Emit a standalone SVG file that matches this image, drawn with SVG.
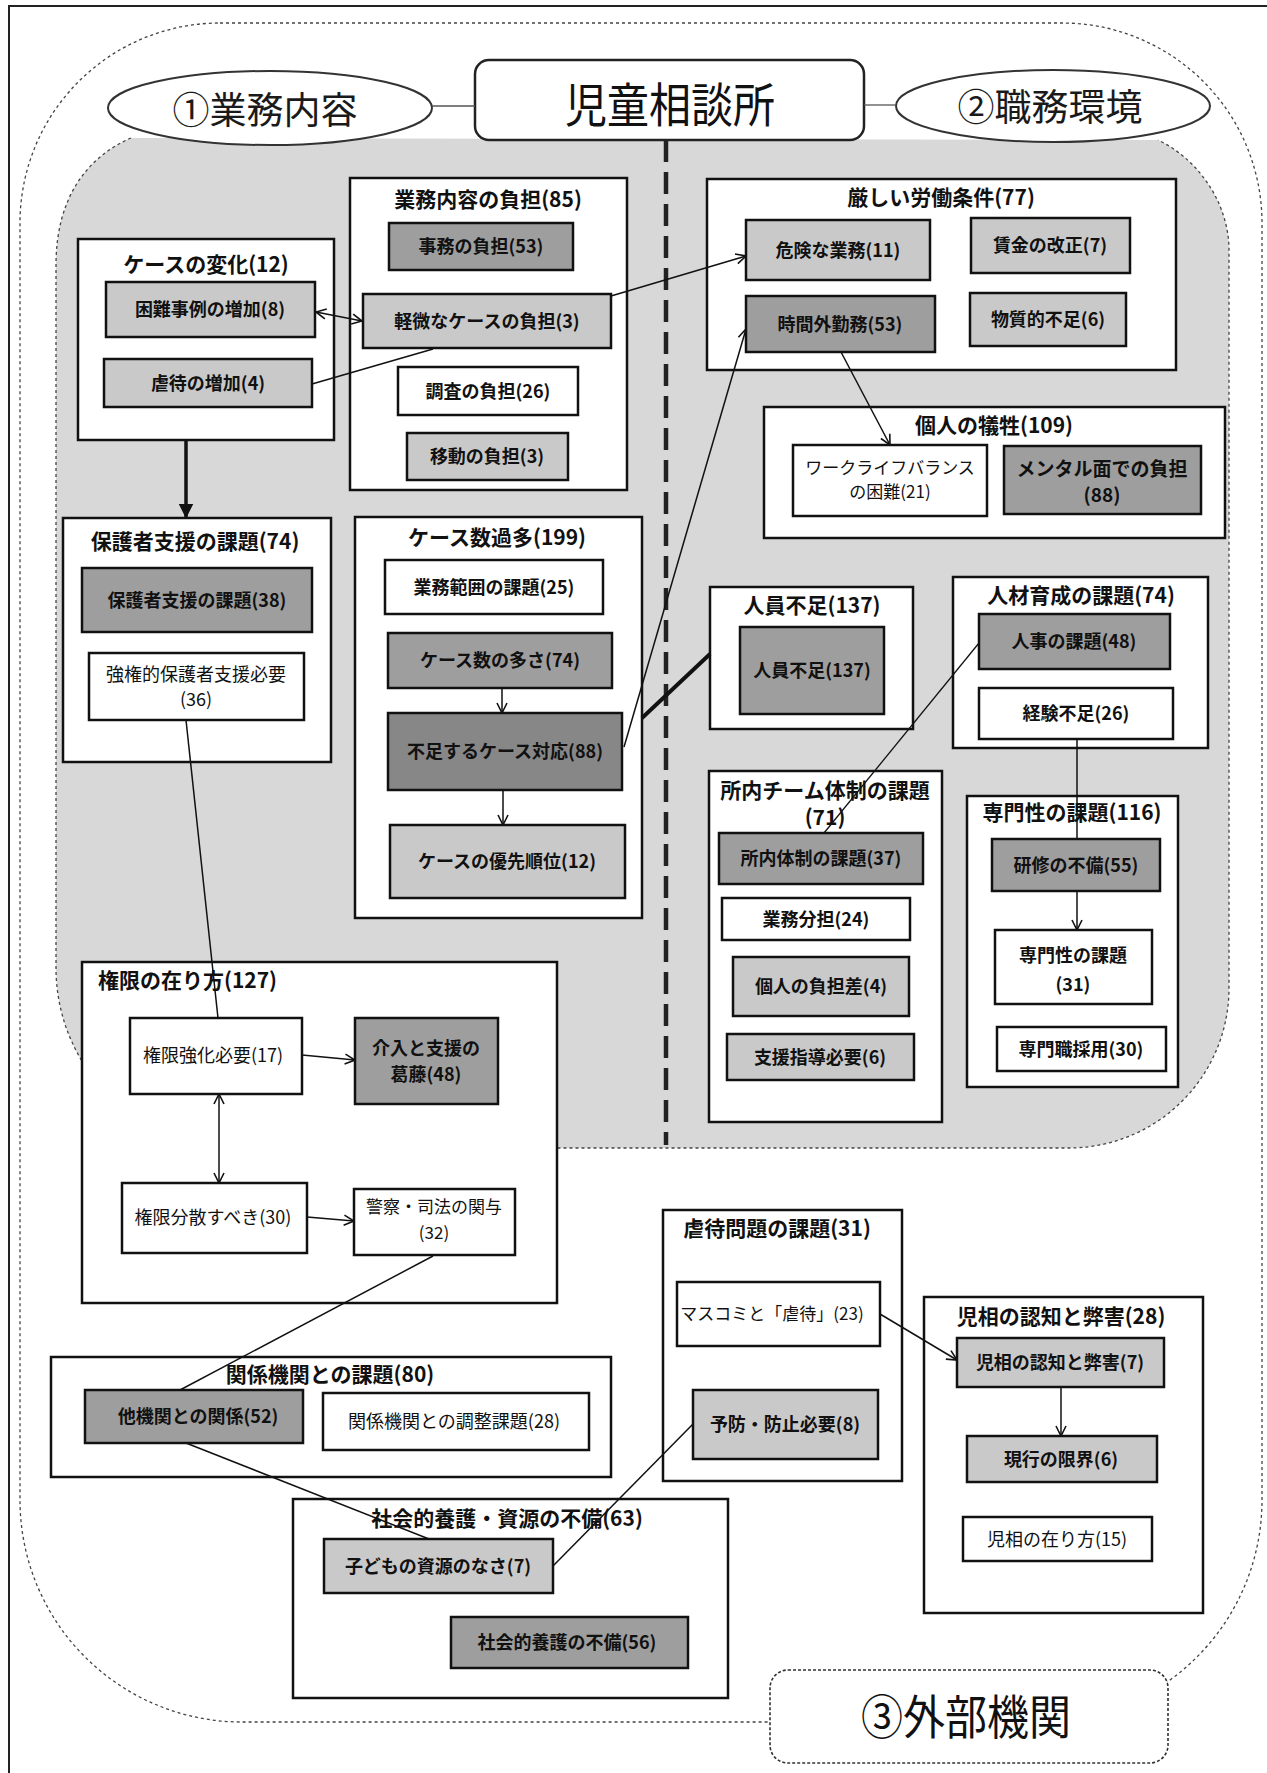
<svg xmlns="http://www.w3.org/2000/svg" width="1267" height="1773" viewBox="0 0 1267 1773">
<style>
text{font-family:"Noto Sans CJK JP","Noto Sans",sans-serif;fill:#111;text-anchor:middle}
.tt{font-size:21px;font-weight:bold}
.it{font-size:18px;font-weight:bold}
.nt{font-size:18px;font-weight:normal}
.big{font-size:37px;font-weight:normal;fill:#1a1a1a}
.bx{stroke:#111;stroke-width:2.5}
.w{fill:#fff}.l{fill:#c9c9c9}.d{fill:#9e9e9e}.dd{fill:#878787}
.cn{fill:none;stroke:#111;stroke-width:1.5}
.ar{marker-end:url(#ah)}
.da{marker-start:url(#ah);marker-end:url(#ah)}
.dot{fill:none;stroke:#444;stroke-width:1.3;stroke-dasharray:3 3}
</style>
<defs>
<marker id="ah" viewBox="0 0 12 12" refX="11" refY="6" markerWidth="12" markerHeight="12" markerUnits="userSpaceOnUse" orient="auto-start-reverse"><path d="M1,1 L11,6 L1,11" fill="none" stroke="#111" stroke-width="1.6"/></marker>
<marker id="ahf" viewBox="0 0 10 10" refX="9" refY="5" markerWidth="15" markerHeight="15" markerUnits="userSpaceOnUse" orient="auto"><path d="M0,0 L10,5 L0,10 z" fill="#111"/></marker>
</defs>
<rect width="1267" height="1773" fill="#fff"/>
<g id="frame"><path d="M9 1773 V6 H1267" fill="none" stroke="#222" stroke-width="2"/></g>
<g id="regions">
<path id="region3" class="dot" d="M220 23 H1062 A200 200 0 0 1 1262 223 V1500 A222 222 0 0 1 1040 1722 H242 A222 222 0 0 1 20 1500 V223 A200 200 0 0 1 220 23 Z"/>
<path id="region12-fill" d="M131 138 C85 158 56 200 56 265 V968 A180 180 0 0 0 236 1148 H1069 A160 160 0 0 0 1229 988 V250 C1229 205 1200 160 1158 140 Z" fill="#d8d8d8"/>
<path id="region12-edge" class="dot" d="M131 138 C85 158 56 200 56 265 V968 A180 180 0 0 0 236 1148 H1069 A160 160 0 0 0 1229 988 V250 C1229 205 1200 160 1158 140"/>
</g>
<g id="divider"><line x1="666" y1="140" x2="666" y2="1145" stroke="#222" stroke-width="4.5" stroke-dasharray="22 10"/></g>

<g id="n-ell1"><ellipse cx="270" cy="108" rx="162" ry="37" fill="#fff" stroke="#333" stroke-width="2"/><text class="big" x="265" y="124">①業務内容</text></g>
<g id="n-ell2"><ellipse cx="1053" cy="106" rx="157" ry="36" fill="#fff" stroke="#333" stroke-width="2"/><text class="big" x="1050" y="121">②職務環境</text></g>
<g id="n-title"><rect x="475" y="60" width="389" height="80" rx="14" fill="#fff" stroke="#222" stroke-width="2.5"/><text transform="translate(670 105) scale(1 1.12)" x="0" y="15.5" style="font-size:42px">児童相談所</text></g>
<g id="n-ext"><rect x="770" y="1670" width="398" height="93" rx="18" fill="#fff" stroke="#333" stroke-width="1.6" stroke-dasharray="3 2"/><text transform="translate(966 1717) scale(1 1.1)" x="0" y="15.5" style="font-size:42px">③外部機関</text></g>

<g id="c-case-change"><rect class="bx w" x="78" y="239" width="256" height="201"/><text class="tt" x="206" y="272">ケースの変化(12)</text></g>
<g id="c-gyomu"><rect class="bx w" x="350" y="178" width="277" height="312"/><text class="tt" x="488" y="207">業務内容の負担(85)</text></g>
<g id="c-roudou"><rect class="bx w" x="707" y="179" width="469" height="191"/><text class="tt" x="941" y="205">厳しい労働条件(77)</text></g>
<g id="c-gisei"><rect class="bx w" x="764" y="407" width="461" height="131"/><text class="tt" x="994" y="433">個人の犠牲(109)</text></g>
<g id="c-hogosha"><rect class="bx w" x="63" y="518" width="268" height="244"/><text class="tt" x="195" y="549">保護者支援の課題(74)</text></g>
<g id="c-kasu"><rect class="bx w" x="355" y="517" width="287" height="401"/><text class="tt" x="497" y="545">ケース数過多(199)</text></g>
<g id="c-jinin"><rect class="bx w" x="710" y="587" width="203" height="142"/><text class="tt" x="812" y="613">人員不足(137)</text></g>
<g id="c-jinzai"><rect class="bx w" x="953" y="577" width="255" height="171"/><text class="tt" x="1081" y="603">人材育成の課題(74)</text></g>
<g id="c-shonai"><rect class="bx w" x="709" y="771" width="233" height="351"/><text class="tt" x="825" y="798">所内チーム体制の課題</text><text class="tt" x="825" y="825">(71)</text></g>
<g id="c-senmon"><rect class="bx w" x="967" y="796" width="211" height="291"/><text class="tt" x="1072" y="820">専門性の課題(116)</text></g>
<g id="c-kengen"><rect class="bx w" x="82" y="962" width="475" height="341"/><text class="tt" x="98" y="988" style="text-anchor:start">権限の在り方(127)</text></g>
<g id="c-kankei"><rect class="bx w" x="51" y="1357" width="560" height="120"/><text class="tt" x="330" y="1382">関係機関との課題(80)</text></g>
<g id="c-shakai"><rect class="bx w" x="293" y="1499" width="435" height="199"/><text class="tt" x="507" y="1526">社会的養護・資源の不備(63)</text></g>
<g id="c-gyakutai"><rect class="bx w" x="663" y="1210" width="239" height="271"/><text class="tt" x="777" y="1236">虐待問題の課題(31)</text></g>
<g id="c-jiso"><rect class="bx w" x="924" y="1297" width="279" height="316"/><text class="tt" x="1061" y="1324">児相の認知と弊害(28)</text></g>

<g id="connectors">
<line class="cn" x1="432" y1="106" x2="475" y2="106" style="stroke:#555;stroke-width:1.3"/>
<line class="cn" x1="864" y1="105" x2="896" y2="105" style="stroke:#555;stroke-width:1.3"/>
<line class="cn da" x1="316" y1="312" x2="362" y2="321"/>
<line class="cn" x1="312" y1="384" x2="433" y2="349"/>
<line class="cn ar" x1="611" y1="296" x2="746" y2="256"/>
<line x1="186" y1="440" x2="186" y2="517" stroke="#111" stroke-width="3.5" marker-end="url(#ahf)"/>
<line class="cn ar" x1="841" y1="352" x2="890" y2="445"/>
<line class="cn ar" x1="502" y1="688" x2="502" y2="713"/>
<line class="cn ar" x1="503" y1="790" x2="503" y2="825"/>
<line class="cn ar" x1="624" y1="747" x2="746" y2="329"/>
<line x1="642" y1="718" x2="710" y2="654" stroke="#111" stroke-width="4"/>
<line class="cn" x1="824" y1="833" x2="979" y2="643" style="stroke-width:1.3"/>
<line class="cn ar" x1="1077" y1="739" x2="1077" y2="930"/>
<line class="cn" x1="186" y1="720" x2="218" y2="1018"/>
<line class="cn ar" x1="302" y1="1055" x2="355" y2="1060"/>
<line class="cn da" x1="219" y1="1094" x2="219" y2="1183"/>
<line class="cn ar" x1="307" y1="1217" x2="354" y2="1221"/>
<line class="cn" x1="433" y1="1256" x2="180" y2="1390"/>
<line class="cn" x1="186" y1="1443" x2="429" y2="1539"/>
<line class="cn" x1="553" y1="1566" x2="693" y2="1424"/>
<line class="cn ar" x1="880" y1="1314" x2="957" y2="1360"/>
<line class="cn ar" x1="1061" y1="1387" x2="1061" y2="1436"/>
</g>

<g id="n-konnan"><rect class="bx l" x="106" y="282" width="209" height="55"/><text class="it" x="210" y="316">困難事例の増加(8)</text></g>
<g id="n-gyakutai-zouka"><rect class="bx l" x="104" y="359" width="208" height="48"/><text class="it" x="208" y="390">虐待の増加(4)</text></g>
<g id="n-jimu"><rect class="bx d" x="389" y="223" width="184" height="47"/><text class="it" x="481" y="253">事務の負担(53)</text></g>
<g id="n-keibi"><rect class="bx l" x="363" y="294" width="248" height="54"/><text class="it" x="487" y="328">軽微なケースの負担(3)</text></g>
<g id="n-chosa"><rect class="bx w" x="398" y="367" width="180" height="48"/><text class="it" x="488" y="398">調査の負担(26)</text></g>
<g id="n-ido"><rect class="bx l" x="407" y="433" width="161" height="47"/><text class="it" x="487" y="463">移動の負担(3)</text></g>
<g id="n-kiken"><rect class="bx l" x="746" y="220" width="184" height="60"/><text class="it" x="838" y="257">危険な業務(11)</text></g>
<g id="n-chingin"><rect class="bx l" x="971" y="218" width="159" height="55"/><text class="it" x="1050" y="252">賃金の改正(7)</text></g>
<g id="n-jikangai"><rect class="bx d" x="746" y="296" width="189" height="56"/><text class="it" x="840" y="331">時間外勤務(53)</text></g>
<g id="n-busshitsu"><rect class="bx l" x="970" y="293" width="156" height="53"/><text class="it" x="1048" y="326">物質的不足(6)</text></g>
<g id="n-wlb"><rect class="bx w" x="793" y="445" width="194" height="71"/><text style="font-size:17px;font-weight:normal" x="890" y="474">ワークライフバランス</text><text style="font-size:17px;font-weight:normal" x="890" y="498">の困難(21)</text></g>
<g id="n-mental"><rect class="bx d" x="1004" y="446" width="197" height="68"/><text style="font-size:19px;font-weight:bold" x="1102" y="476">メンタル面での負担</text><text style="font-size:19px;font-weight:bold" x="1102" y="502">(88)</text></g>
<g id="n-hogosha38"><rect class="bx d" x="82" y="568" width="230" height="64"/><text class="it" x="197" y="607">保護者支援の課題(38)</text></g>
<g id="n-kyoken"><rect class="bx w" x="89" y="653" width="215" height="67"/><text class="nt" x="196" y="681">強権的保護者支援必要</text><text class="nt" x="196" y="706">(36)</text></g>
<g id="n-hanni"><rect class="bx w" x="385" y="560" width="218" height="54"/><text class="it" x="494" y="594">業務範囲の課題(25)</text></g>
<g id="n-kazu"><rect class="bx d" x="388" y="633" width="224" height="55"/><text class="it" x="500" y="667">ケース数の多さ(74)</text></g>
<g id="n-fusoku"><rect class="bx dd" x="388" y="713" width="234" height="77"/><text class="it" x="505" y="758">不足するケース対応(88)</text></g>
<g id="n-yusen"><rect class="bx l" x="390" y="825" width="235" height="73"/><text class="it" x="507" y="868">ケースの優先順位(12)</text></g>
<g id="n-jinin137"><rect class="bx d" x="740" y="627" width="144" height="87"/><text class="it" x="812" y="677">人員不足(137)</text></g>
<g id="n-jinji"><rect class="bx d" x="979" y="614" width="191" height="55"/><text class="it" x="1074" y="648">人事の課題(48)</text></g>
<g id="n-keiken"><rect class="bx w" x="979" y="688" width="194" height="51"/><text class="it" x="1076" y="720">経験不足(26)</text></g>
<g id="n-shonai37"><rect class="bx d" x="719" y="833" width="204" height="51"/><text class="it" x="821" y="865">所内体制の課題(37)</text></g>
<g id="n-buntan"><rect class="bx w" x="722" y="898" width="188" height="42"/><text class="it" x="816" y="926">業務分担(24)</text></g>
<g id="n-futansa"><rect class="bx l" x="733" y="957" width="176" height="59"/><text class="it" x="821" y="993">個人の負担差(4)</text></g>
<g id="n-shien"><rect class="bx l" x="727" y="1034" width="187" height="46"/><text class="it" x="820" y="1064">支援指導必要(6)</text></g>
<g id="n-kenshu"><rect class="bx d" x="992" y="839" width="168" height="52"/><text class="it" x="1076" y="872">研修の不備(55)</text></g>
<g id="n-senmon31"><rect class="bx w" x="995" y="930" width="157" height="74"/><text class="it" x="1073" y="962">専門性の課題</text><text class="it" x="1073" y="991">(31)</text></g>
<g id="n-saiyo"><rect class="bx w" x="997" y="1027" width="169" height="44"/><text class="it" x="1081" y="1056">専門職採用(30)</text></g>
<g id="n-kyoka"><rect class="bx w" x="130" y="1018" width="172" height="76"/><text class="nt" x="213" y="1062">権限強化必要(17)</text></g>
<g id="n-kainyu"><rect class="bx d" x="355" y="1018" width="143" height="86"/><text class="it" x="426" y="1055">介入と支援の</text><text class="it" x="426" y="1081">葛藤(48)</text></g>
<g id="n-bunsan"><rect class="bx w" x="122" y="1183" width="185" height="70"/><text class="nt" x="213" y="1224">権限分散すべき(30)</text></g>
<g id="n-keisatsu"><rect class="bx w" x="354" y="1189" width="161" height="66"/><text class="nt" x="434" y="1213" style="font-size:17px">警察・司法の関与</text><text class="nt" x="434" y="1239" style="font-size:17px">(32)</text></g>
<g id="n-takikan"><rect class="bx d" x="85" y="1390" width="218" height="53"/><text class="it" x="198" y="1423">他機関との関係(52)</text></g>
<g id="n-chosei"><rect class="bx w" x="323" y="1393" width="266" height="57"/><text class="nt" x="454" y="1428">関係機関との調整課題(28)</text></g>
<g id="n-kodomo"><rect class="bx l" x="324" y="1539" width="229" height="54"/><text class="it" x="438" y="1573">子どもの資源のなさ(7)</text></g>
<g id="n-yogo"><rect class="bx d" x="451" y="1617" width="237" height="51"/><text class="it" x="567" y="1649">社会的養護の不備(56)</text></g>
<g id="n-masukomi"><rect class="bx w" x="677" y="1282" width="203" height="64"/><text class="nt" x="772" y="1320" style="font-size:17px">マスコミと「虐待」(23)</text></g>
<g id="n-yobo"><rect class="bx l" x="693" y="1390" width="185" height="69"/><text class="it" x="785" y="1431">予防・防止必要(8)</text></g>
<g id="n-jiso7"><rect class="bx l" x="957" y="1338" width="207" height="49"/><text class="it" x="1060" y="1369">児相の認知と弊害(7)</text></g>
<g id="n-genko"><rect class="bx l" x="967" y="1436" width="190" height="46"/><text class="it" x="1061" y="1466">現行の限界(6)</text></g>
<g id="n-arikata"><rect class="bx w" x="963" y="1517" width="189" height="44"/><text class="nt" x="1057" y="1546">児相の在り方(15)</text></g>
</svg>
